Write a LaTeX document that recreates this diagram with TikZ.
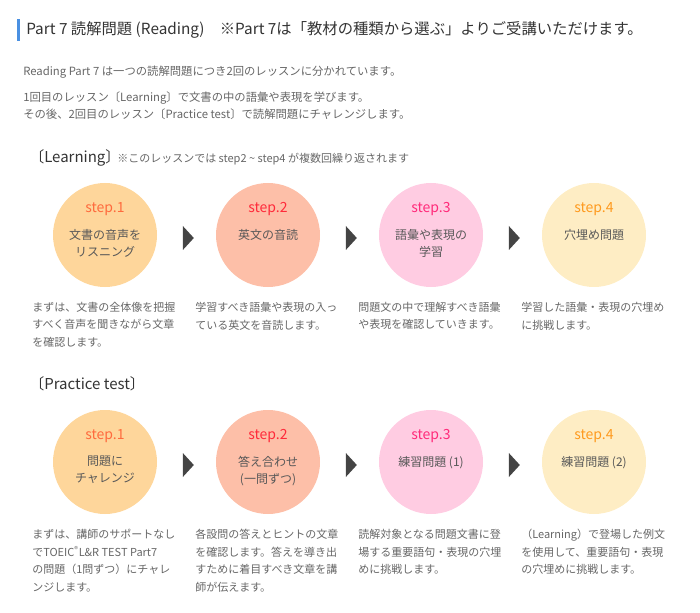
\documentclass[tikz,border=0pt]{standalone}
\usepackage{fontspec}
\setmainfont{Noto Sans CJK JP}
\usetikzlibrary{positioning,calc,shapes.geometric}
\definecolor{titlecol}{RGB}{51,51,51}
\definecolor{bodycol}{RGB}{102,102,102}
\definecolor{stepcol}{RGB}{88,88,88}
\definecolor{barcol}{RGB}{74,144,226}
\definecolor{arrowcol}{RGB}{68,68,68}
\definecolor{fillA}{RGB}{254,214,155}
\definecolor{fillB}{RGB}{253,191,168}
\definecolor{fillC}{RGB}{255,204,226}
\definecolor{fillD}{RGB}{254,237,196}
\definecolor{textA}{RGB}{255,106,61}
\definecolor{textB}{RGB}{255,42,58}
\definecolor{textC}{RGB}{255,42,122}
\definecolor{textD}{RGB}{255,154,30}
\tikzset{
  stepcirc/.style={circle, minimum size=78pt, inner sep=0pt},
  steplab/.style={font=\fontsize{10.5}{12}\selectfont, inner sep=0pt},
  stepbody/.style={font=\fontsize{9}{12.75}\selectfont, text=stepcol, align=center, anchor=north, inner sep=0pt},
  desc/.style={font=\fontsize{8.25}{13.1}\selectfont, text=bodycol, align=left, anchor=north west, inner sep=0pt},
  intro/.style={font=\fontsize{8.5}{12}\selectfont, text=bodycol, anchor=west, inner sep=0pt},
  rowhead/.style={font=\fontsize{11.25}{13}\selectfont, text=titlecol, anchor=west, inner sep=0pt},
  nexttri/.style={isosceles triangle, isosceles triangle stretches, minimum width=18pt, minimum height=8.25pt, inner sep=0pt, fill=arrowcol},
}
\begin{document}
\begin{tikzpicture}[x=0.75pt,y=-0.75pt]
  \useasboundingbox (0,0) rectangle (700,613);
  % heading
  \fill[barcol] (17,19) rectangle (20,41);
  \node[font=\fontsize{11.5}{13}\selectfont, text=titlecol, anchor=west, inner sep=0pt] (title) at (26,30)
    {Part 7 読解問題 (Reading)\hspace{1em}※Part 7は「教材の種類から選ぶ」よりご受講いただけます。};
  \node[intro] (intro1) at (23,72) {Reading Part 7 は一つの読解問題につき2回のレッスンに分かれています。};
  \node[intro] (intro2) at (23,98) {1回目のレッスン〔Learning〕で文書の中の語彙や表現を学びます。};
  \node[intro] (intro3) at (23,114) {その後、2回目のレッスン〔Practice test〕で読解問題にチャレンジします。};

  % Learning
  \node[rowhead] (learnhead) at (29,158) {〔Learning〕};
  \node[intro, font=\fontsize{8.25}{9}\selectfont] (learnnote) at (117,159)
    {※このレッスンでは step2 \textasciitilde{} step4 が複数回繰り返されます};
  \foreach \i/\fc/\tc/\body/\txt in {
      1/fillA/textA/{文書の音声を\\リスニング}/{まずは、文書の全体像を把握\\すべく音声を聞きながら文章\\を確認します。},
      2/fillB/textB/{英文の音読}/{学習すべき語彙や表現の入っ\\ている英文を音読します。},
      3/fillC/textC/{語彙や表現の\\学習}/{問題文の中で理解すべき語彙\\や表現を確認していきます。},
      4/fillD/textD/{穴埋め問題}/{学習した語彙・表現の穴埋め\\に挑戦します。}} {
    \node[stepcirc, fill=\fc] (l\i) at ({105+163*(\i-1)},235) {};
    \node[steplab, text=\tc] (ls\i) at ($(l\i)+(0,-26)$) {step.\i};
    \node[stepbody] (lb\i) at ($(l\i)+(0,-6)$) {\body};
    \node[desc] (ld\i) at ($(l\i)+(-73,67)$) {\txt};
  }
  \foreach \i/\j in {1/2,2/3,3/4}
    \node[nexttri] (la\i) at ($(l\i)!0.5!(l\j)+(1,3)$) {};

  % Practice test
  \node[rowhead] (prachead) at (29,384) {〔Practice test〕};
  \foreach \i/\fc/\tc/\body/\txt in {
      1/fillA/textA/{問題に\\チャレンジ}/{まずは、講師のサポートなし\\でTOEIC\textsuperscript{®}L\&R TEST Part7\\の問題（1問ずつ）にチャレ\\ンジします。},
      2/fillB/textB/{答え合わせ\\(一問ずつ)}/{各設問の答えとヒントの文章\\を確認します。答えを導き出\\すために着目すべき文章を講\\師が伝えます。},
      3/fillC/textC/{練習問題 (1)}/{読解対象となる問題文書に登\\場する重要語句・表現の穴埋\\めに挑戦します。},
      4/fillD/textD/{練習問題 (2)}/{（Learning）で登場した例文\\を使用して、重要語句・表現\\の穴埋めに挑戦します。}} {
    \node[stepcirc, fill=\fc] (p\i) at ({105+163*(\i-1)},462) {};
    \node[steplab, text=\tc] (ps\i) at ($(p\i)+(0,-26)$) {step.\i};
    \node[stepbody] (pb\i) at ($(p\i)+(0,-6)$) {\body};
    \node[desc] (pd\i) at ($(p\i)+(-73,67)$) {\txt};
  }
  \foreach \i/\j in {1/2,2/3,3/4}
    \node[nexttri] (pa\i) at ($(p\i)!0.5!(p\j)+(1,3)$) {};
\end{tikzpicture}
\end{document}
